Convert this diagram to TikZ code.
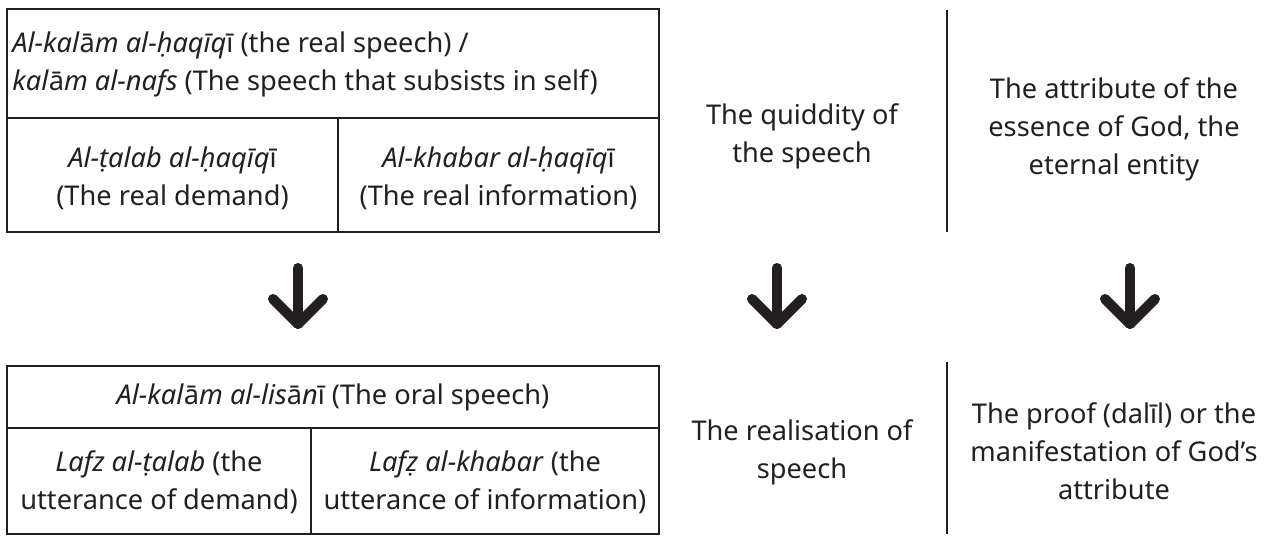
\documentclass[tikz,border=0pt]{standalone}
\usepackage{fontspec}
\setmainfont{Noto Sans}
\usetikzlibrary{positioning}
\definecolor{ink}{HTML}{231F20}
\newcommand{\plainA}{{\upshape ā}}
\newcommand{\plainI}{{\upshape ī}}
\tikzset{
  cell/.style={align=center,text=ink,inner sep=0pt,font=\fontsize{13.6}{19}\selectfont},
  rule/.style={draw=ink,line width=1.3pt},
  downarrow/.style={draw=ink,line width=5pt,line cap=round,line join=round},
}

\begin{document}
\begin{tikzpicture}[x=0.5pt,y=-0.5pt]
    \useasboundingbox (0,0) rectangle (1274,536);
    % upper table: the real speech
    \draw[rule] (7,9) rectangle (659,232);
    \draw[rule] (7,118) -- (659,118);
    \draw[rule] (338,118) -- (338,232);
    \node[cell,anchor=west,align=left] (real) at (12,64)
        {\textit{Al-kal}\plainA\textit{m al-ḥaqīq}\plainI{} (the real speech) /\\
         \textit{kal}\plainA\textit{m al-nafs} (The speech that subsists in self)};
    \node[cell] (demand) at (172.5,178) {\textit{Al-ṭalab al-ḥaqīq}\plainI\\(The real demand)};
    \node[cell] (info) at (498.5,178) {\textit{Al-khabar al-ḥaqīq}\plainI\\(The real information)};
    \node[cell] (quiddity) at (802,136) {The quiddity of\\the speech};
    \draw[rule] (947,10) -- (947,232);
    \node[cell] (attribute) at (1114,129) {The attribute of the\\essence of God, the\\eternal entity};
    % arrows
    \foreach \x/\n in {298/left,777/mid,1130/right}{
      \coordinate (\n top) at (\x,268);
      \coordinate (\n tip) at (\x,324);
      \draw[downarrow] (\n top) -- (\n tip);
      \draw[downarrow] ([xshift=-12.5pt,yshift=12.5pt]\n tip) -- (\n tip) -- ([xshift=12.5pt,yshift=12.5pt]\n tip);
    }
    % lower table: the oral speech
    \draw[rule] (7,366) rectangle (659,534);
    \draw[rule] (7,428) -- (659,428);
    \draw[rule] (311,428) -- (311,534);
    \node[cell] (oral) at (333,397) {\textit{Al-kal}\plainA\textit{m al-lis}\plainA\textit{n}\plainI{} (The oral speech)};
    \node[cell] (utterdemand) at (159,482) {\textit{Lafz al-ṭalab} (the\\utterance of demand)};
    \node[cell] (utterinfo) at (485,482) {\textit{Lafẓ al-khabar} (the\\utterance of information)};
    \node[cell] (realisation) at (802,452) {The realisation of\\speech};
    \draw[rule] (947,362) -- (947,534);
    \node[cell] (proof) at (1114,451) {The proof (dalīl) or the\\manifestation of God’s\\attribute};
\end{tikzpicture}
\end{document}
